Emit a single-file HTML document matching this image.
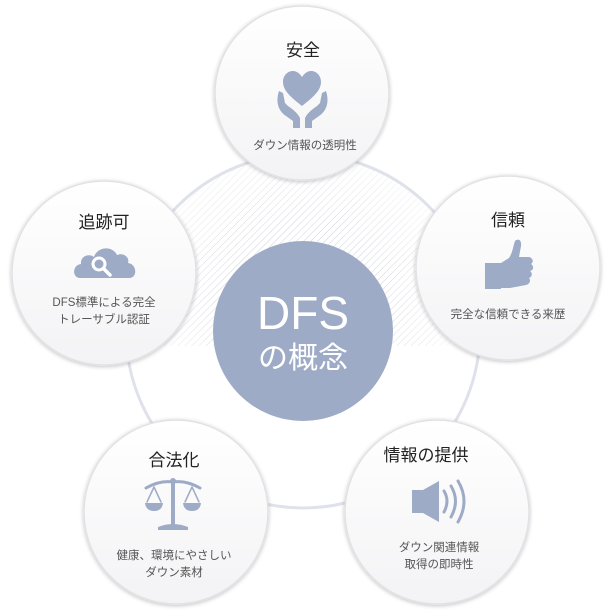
<!DOCTYPE html>
<html><head><meta charset="utf-8"><style>
html,body{margin:0;padding:0;background:#fff;}
svg{display:block;font-family:"Liberation Sans","Noto Sans CJK JP",sans-serif;}
</style></head><body>
<svg width="610" height="610" viewBox="0 0 610 610" xmlns="http://www.w3.org/2000/svg">
<defs>
<pattern id="hatch" width="5" height="5" patternUnits="userSpaceOnUse" patternTransform="rotate(45)">
<line x1="0" y1="0" x2="0" y2="5" stroke="#cfd2d9" stroke-width="1"/>
</pattern>
<radialGradient id="fade" cx="303" cy="300" r="190" gradientUnits="userSpaceOnUse">
<stop offset="0.4" stop-color="#fff" stop-opacity="1"/>
<stop offset="1" stop-color="#fff" stop-opacity="0"/>
</radialGradient>
<mask id="m"><rect x="0" y="0" width="610" height="610" fill="url(#fade)"/></mask>
<clipPath id="cp"><circle cx="303" cy="331" r="177"/></clipPath>
<linearGradient id="cg" x1="0" y1="0" x2="0" y2="1">
<stop offset="0" stop-color="#ffffff"/><stop offset="1" stop-color="#f3f3f5"/>
</linearGradient>
<filter id="sh" x="-20%" y="-20%" width="140%" height="140%">
<feGaussianBlur in="SourceAlpha" stdDeviation="2"/><feOffset dy="1"/>
<feComponentTransfer><feFuncA type="linear" slope="0.25"/></feComponentTransfer>
<feMerge><feMergeNode/><feMergeNode in="SourceGraphic"/></feMerge>
</filter>
</defs>
<g clip-path="url(#cp)"><rect x="120" y="150" width="370" height="196" fill="url(#hatch)" mask="url(#m)"/></g>
<circle cx="303" cy="331" r="177" fill="none" stroke="#dfe2ea" stroke-width="3"/>
<circle cx="303" cy="331" r="90" fill="#9eabc6"/>
<text x="303" y="329" font-size="46" fill="#fff" text-anchor="middle">DFS</text>
<text x="303" y="368" font-size="30" fill="#fff" text-anchor="middle">の概念</text>

<g filter="url(#sh)" fill="url(#cg)" stroke="#e2e2e6" stroke-width="1.5">
<circle cx="302" cy="93" r="87"/>
<circle cx="104" cy="273" r="92"/>
<circle cx="508" cy="268" r="92"/>
<circle cx="176" cy="512" r="92"/>
<circle cx="437" cy="512" r="92"/>
</g>

<g fill="#222" font-size="17" text-anchor="middle">
<text x="303" y="56">安全</text>
<text x="104" y="228">追跡可</text>
<text x="508" y="226">信頼</text>
<text x="174" y="466">合法化</text>
<text x="426" y="461">情報の提供</text>
</g>
<g fill="#555" font-size="11.5" text-anchor="middle">
<text x="305" y="149">ダウン情報の透明性</text>
<text x="104" y="306">DFS標準による完全</text>
<text x="104" y="323">トレーサブル認証</text>
<text x="508" y="318">完全な信頼できる来歴</text>
<text x="174" y="559">健康、環境にやさしい</text>
<text x="174" y="576">ダウン素材</text>
<text x="439" y="551">ダウン関連情報</text>
<text x="439" y="568">取得の即時性</text>
</g>

<g fill="#9dabc6" stroke="none">
<!-- heart + hands -->
<path d="M302 106 C292 98 283 91 283 82 C283 75 288 71 293 71 C297 71 300 74 302 77 C304 74 307 71 311 71 C316 71 321 75 321 82 C321 91 312 98 302 106Z"/>
<path d="M279 91 C276 100 277 110 286 116 L293 121 L293 128 L300 128 L300 118 C297 112 292 109 288 106 L285 103 L283 93Z"/>
<path d="M326 91 C329 100 328 110 319 116 L312 121 L312 128 L305 128 L305 118 C308 112 313 109 317 106 L320 103 L322 93Z"/>
<!-- cloud -->
<path d="M80 278 C72 278 72 265 81 264 C80 256 89 253 94 257 C97 247 112 245 117 255 C124 252 130 258 128 263 C137 264 138 278 129 278Z"/>
<!-- thumb -->
<rect x="485" y="263" width="16" height="26"/>
<path d="M501 263 L509 258 C513 252 513 246 515 241 C518 238 522 240 521 246 L519 257 L529 257 C533 258 534 262 531 264 C534 266 534 270 530 271 C533 273 532 277 529 278 C531 280 530 284 526 285 L510 288 L501 288Z"/>
<!-- speaker -->
<path d="M412 490 L423 490 L439 481 L439 522 L423 513 L412 513Z"/>
</g>
<g fill="none" stroke="#9dabc6" stroke-linecap="round">
<circle cx="99" cy="264" r="6" stroke="#fff" stroke-width="3"/>
<line x1="104" y1="269" x2="110" y2="275" stroke="#fff" stroke-width="3.5"/>
<path d="M444 491 Q450 501 444 512" stroke-width="3"/>
<path d="M451 486 Q460 501 451 517" stroke-width="3"/>
<path d="M458 481 Q470 501 458 522" stroke-width="3"/>
<!-- scale -->
<path d="M146 488 Q160 480 173 482 Q186 480 200 488" stroke-width="3"/>
<line x1="173" y1="482" x2="173" y2="525" stroke-width="4"/>
<path d="M154 487 L147 502 M154 487 L161 502 M192 487 L185 502 M192 487 L199 502" stroke-width="1.5"/>
</g>
<g fill="#9dabc6">
<circle cx="173" cy="481" r="3"/>
<path d="M145 503 L163 503 Q162 511 154 511 Q146 511 145 503Z"/>
<path d="M183 503 L201 503 Q200 511 192 511 Q184 511 183 503Z"/>
<path d="M158 527 Q173 521 188 527 L188 530 L158 530Z"/>
</g>
</svg>
</body></html>
